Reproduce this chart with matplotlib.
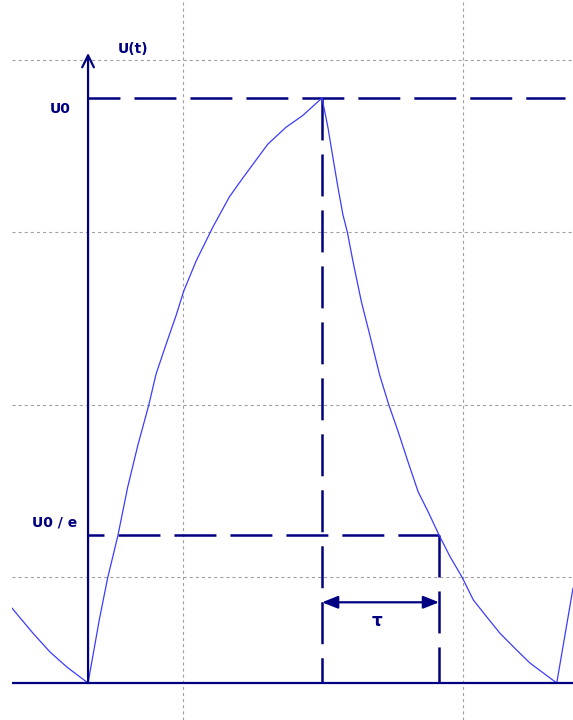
import matplotlib
matplotlib.use("Agg")
import matplotlib.pyplot as plt

plt.rcParams['lines.scale_dashes'] = False
plt.rcParams['font.family'] = ['DejaVu Sans']

navy = '#000080'
curve_blue = '#3c3cff'

# time in units of tau, voltage in units of U0
t_rise = [0.0, 0.097, 0.168, 0.254, 0.339, 0.425, 0.519, 0.581, 0.667, 0.752,
          0.818, 0.923, 1.066, 1.208, 1.322, 1.536, 1.692, 1.835, 2.0]
u_rise = [0.0, 0.109, 0.180, 0.251, 0.335, 0.406, 0.475, 0.528, 0.579, 0.628,
          0.670, 0.721, 0.779, 0.831, 0.863, 0.921, 0.950, 0.970, 1.0]

t_fall = [2.0, 2.051, 2.094, 2.137, 2.179, 2.216, 2.265, 2.336, 2.408, 2.493,
          2.570, 2.650, 2.735, 2.821, 2.906, 3.0, 3.094, 3.194, 3.293, 3.408,
          3.521, 3.650, 3.778, 3.906, 4.006]
u_fall = [1.0, 0.949, 0.897, 0.846, 0.800, 0.771, 0.720, 0.652, 0.595, 0.526,
          0.476, 0.430, 0.378, 0.327, 0.293, 0.253, 0.216, 0.182, 0.142, 0.113,
          0.085, 0.059, 0.034, 0.015, 0.0]

# tail of previous period and start of next one
t_prev = [-0.650, -0.470, -0.325, -0.179, 0.0]
u_prev = [0.128, 0.085, 0.053, 0.027, 0.0]
t_next = [4.006, 4.145]
u_next = [0.0, 0.162]

U0 = 1.0
U0_e = 0.253
t_peak = 2.0
t_tau = 3.0
u_tau_arrow = 0.138
u_arrow_top = 1.077

grid_t = [0.812, 3.205]
grid_u = [0.181, 0.475, 0.771, 1.065]

xmin, xmax = -0.650, 4.145
ymin, ymax = -0.0632, 1.1675

fig = plt.figure(figsize=(5.73, 7.2), dpi=100)
ax = fig.add_axes([12 / 573, 0, 561 / 573, 1])
ax.set_xlim(xmin, xmax)
ax.set_ylim(ymin, ymax)
for s in ax.spines.values():
    s.set_visible(False)
ax.set_xticks(grid_t)
ax.set_yticks(grid_u)
ax.tick_params(length=0, labelbottom=False, labelleft=False)
ax.grid(True, color='#a0a0a0', linestyle=(0, (2.2, 2.2)), linewidth=0.8)

# curve
for tt, uu in [(t_prev, u_prev), (t_rise, u_rise), (t_fall, u_fall), (t_next, u_next)]:
    ax.plot(tt, uu, color=curve_blue, lw=0.9, zorder=3)

# axes
ax.plot([xmin, xmax], [0, 0], color=navy, lw=1.6, zorder=4)
ax.annotate('', xy=(0, u_arrow_top), xytext=(0, 0),
            arrowprops=dict(arrowstyle='->,head_length=0.85,head_width=0.42',
                            color=navy, lw=1.6, shrinkA=0, shrinkB=0), zorder=4)

# dashed guides
dash = (30.2, 10.1)
ax.plot([0, xmax - 0.07], [U0, U0], color=navy, lw=1.8,
        linestyle=(7.2, dash), zorder=2)
ax.plot([t_peak, t_peak], [U0, 0], color=navy, lw=1.8,
        linestyle=(0, dash), zorder=2)
ax.plot([0, t_tau], [U0_e, U0_e], color=navy, lw=1.8,
        linestyle=(18.7, dash), zorder=2)
ax.plot([t_tau, t_tau], [U0_e, 0], color=navy, lw=1.8,
        linestyle=(0, dash), zorder=2)

# tau arrow
ax.annotate('', xy=(t_tau, u_tau_arrow), xytext=(t_peak, u_tau_arrow),
            arrowprops=dict(arrowstyle='<|-|>,head_length=0.95,head_width=0.38',
                            color=navy, lw=1.6, shrinkA=0, shrinkB=0), zorder=4)

txt = dict(color=navy, fontsize=10, fontweight='bold', ha='center', va='center')
ax.text(0.385, 1.084, 'U(t)', **txt)
ax.text(-0.239, 0.981, 'U0', **txt)
ax.text(-0.282, 0.274, 'U0 / e', **txt)
ax.text(2.47, 0.106, 'τ', **dict(txt, fontsize=12))

fig.savefig('out.png', dpi=100, facecolor='white')
